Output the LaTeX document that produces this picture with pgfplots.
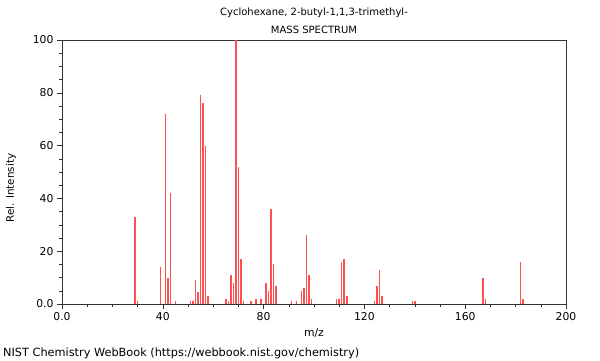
\documentclass[border=0pt]{standalone}
\usepackage{fontspec}
\setmainfont{DejaVu Sans}
\usepackage{pgfplots}
\pgfplotsset{compat=1.18}
\begin{document}
\begin{tikzpicture}[x=1pt,y=1pt]
\useasboundingbox (0,0) rectangle (600,360);
\begin{axis}[
  at={(62pt,56pt)}, anchor=south west,
  scale only axis, width=504pt, height=264pt,
  xmin=0, xmax=200, ymin=0, ymax=100,
  xtick={0,40,80,120,160,200}, xticklabels={0.0,40,80,120,160,200},
  ytick={0,20,40,60,80,100}, yticklabels={0.0,20,40,60,80,100},
  minor xtick={10,20,30,50,60,70,90,100,110,130,140,150,170,180,190},
  minor ytick={5,10,15,25,30,35,45,50,55,65,70,75,85,90,95},
  xtick pos=bottom, ytick pos=left, tick align=outside,
  major tick length=5pt, minor tick length=3pt,
  axis line style={line width=0.9pt, black!80},
  every tick/.style={black!80, line width=0.6pt},
  tick label style={font=\fontsize{10.8}{12}\selectfont},
  /pgf/number format/assume math mode=true,
  clip=false,
]
\addplot[ycomb, line width=1.5pt, color={rgb,255:red,255;green,80;blue,80}, mark=none] coordinates {
(29,33) (30,1) (39,14) (41,72) (42,10) (43,42) (45,1)
(51,1) (52,1) (53,9) (54,4.5) (55,79) (56,76) (57,60) (58,3)
(65,2) (66,1) (67,11) (68,8) (69,100) (70,52) (71,17) (72,1)
(75,1) (77,2) (79,2) (81,8) (82,5) (83,36) (84,15) (85,7)
(91,1) (93,1) (95,5) (96,6) (97,26) (98,11) (99,2)
(109,2) (110,2) (111,16) (112,17) (113,3)
(124,1) (125,7) (126,13) (127,3) (139,1) (140,1)
(167,10) (168,2) (182,16) (183,2)
};
\end{axis}
\node[font=\fontsize{10}{12}\selectfont] at (314,347) {Cyclohexane, 2-butyl-1,1,3-trimethyl-};
\node[font=\fontsize{10}{12}\selectfont] at (314,330) {MASS SPECTRUM};
\node[font=\fontsize{10.8}{12}\selectfont] at (314,27) {m/z};
\node[font=\fontsize{10.3}{12}\selectfont, rotate=90] at (11,172) {Rel. Intensity};
\node[font=\fontsize{11.3}{13}\selectfont, anchor=west, inner sep=0pt] at (3,7) {NIST Chemistry WebBook (https://webbook.nist.gov/chemistry)};
\end{tikzpicture}
\end{document}
